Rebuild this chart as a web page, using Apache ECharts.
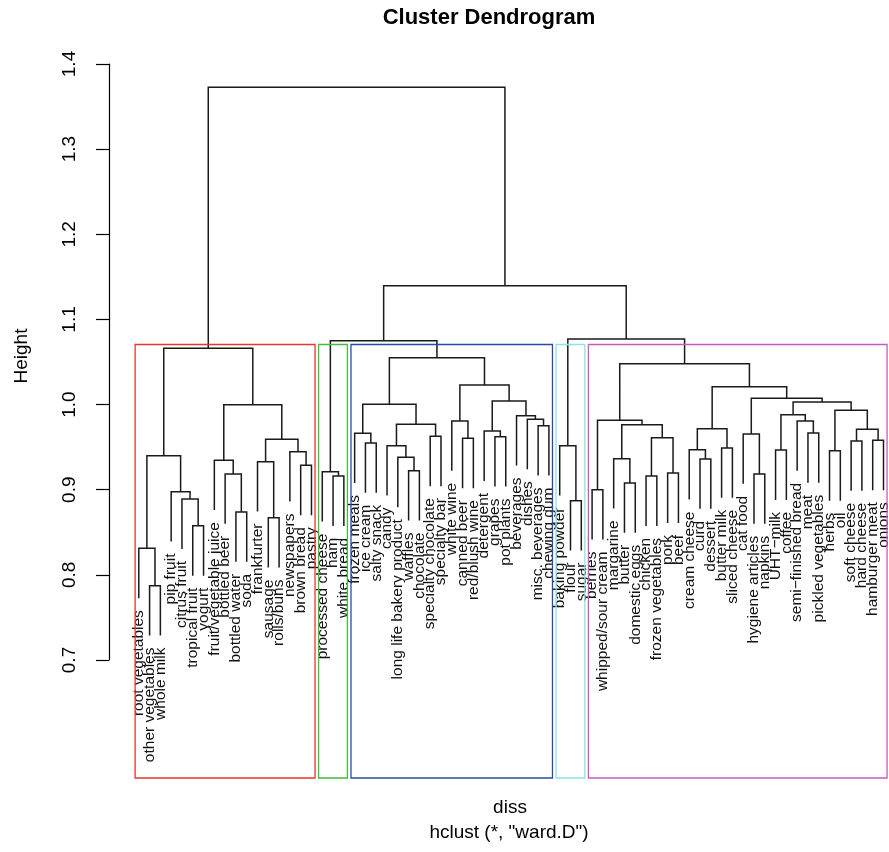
<!DOCTYPE html>
<html>
<head>
<meta charset="utf-8">
<script src="https://cdn.jsdelivr.net/npm/echarts@6/dist/echarts.min.js"></script>
<style>
  html, body { margin: 0; padding: 0; background: #fff; }
  #dendro { width: 889px; height: 852px; }
</style>
</head>
<body>
<div id="dendro"></div>
<script>
// leaves, in plotting order (left -> right)
const leafLabels = [
  'root vegetables', 'other vegetables', 'whole milk', 'pip fruit', 'citrus fruit', 'tropical fruit',
  'yogurt', 'fruit/vegetable juice', 'bottled beer', 'bottled water', 'soda', 'frankfurter', 'sausage',
  'rolls/buns', 'newspapers', 'brown bread', 'pastry',
  'processed cheese', 'ham', 'white bread',
  'frozen meals', 'ice cream', 'salty snack', 'candy', 'long life bakery product', 'waffles', 'chocolate',
  'specialty chocolate', 'specialty bar', 'white wine', 'canned beer', 'red/blush wine', 'detergent',
  'grapes', 'pot plants', 'beverages', 'dishes', 'misc. beverages', 'chewing gum',
  'baking powder', 'flour', 'sugar',
  'berries', 'whipped/sour cream', 'margarine', 'butter', 'domestic eggs', 'chicken', 'frozen vegetables',
  'pork', 'beef', 'cream cheese', 'curd', 'dessert', 'butter milk', 'sliced cheese', 'cat food',
  'hygiene articles', 'napkins', 'UHT\u2212milk', 'coffee', 'semi\u2212finished bread', 'meat',
  'pickled vegetables', 'herbs', 'oil', 'soft cheese', 'hard cheese', 'hamburger meat', 'onions'
]

// merge table like hclust: negative = leaf number, positive = earlier merge row (1-based)
const merges = [
  // red
  [-2, -3], [-1, 1], [-6, -7], [-5, 3], [-4, 4], [2, 5], [-10, -11], [-9, 7], [-8, 8],
  [-13, -14], [-12, 10], [-16, -17], [-15, 12], [11, 13], [9, 14], [6, 15],
  // green
  [-19, -20], [-18, 17],
  // blue
  [-22, -23], [-21, 19], [-26, -27], [-25, 21], [-24, 22], [-28, -29], [23, 24], [20, 25],
  [-31, -32], [-30, 27], [-34, -35], [-33, 29], [-38, -39], [-37, 31], [-36, 32], [30, 33],
  [28, 34], [26, 35], [18, 36],
  // cyan
  [-41, -42], [-40, 38],
  // magenta
  [-43, -44], [-46, -47], [-45, 41], [-48, -49], [-50, -51], [43, 44], [42, 45], [40, 46],
  [-53, -54], [-52, 48], [-55, -56], [49, 50], [-58, -59], [-57, 52], [-60, -61], [-63, -64],
  [-62, 55], [54, 56], [-65, -66], [-67, -68], [-69, -70], [59, 60], [58, 61], [57, 62],
  [53, 63], [51, 64], [47, 65], [39, 66],
  // top
  [37, 67], [16, 68]
]

const heights = [
  0.7877, 0.8316, 0.858, 0.8894, 0.898, 0.9403, 0.8742, 0.9188, 0.9349,
  0.8675, 0.9332, 0.929, 0.945, 0.9595, 1.0, 1.0663,
  0.9164, 0.9215,
  0.9552, 0.9666, 0.9227, 0.9384, 0.952, 0.963, 0.9771, 1.0006,
  0.9607, 0.981, 0.9626, 0.9692, 0.9755, 0.983, 0.9873, 1.0045,
  1.0232, 1.0553, 1.0753,
  0.8875, 0.952,
  0.9004, 0.9082, 0.9368, 0.9164, 0.9199, 0.9614, 0.9767, 0.9818,
  0.9364, 0.9473, 0.9493, 0.972, 0.9188, 0.9657, 0.9469, 0.9669,
  0.981, 0.9884, 0.946, 0.9575, 0.9583, 0.9712, 0.9935, 1.0033,
  1.0076, 1.0213, 1.0482, 1.0772,
  1.1398, 1.3726
]

// rect.hclust(k = 5)
const clusterFirst = [1, 18, 21, 40, 43]
const clusterLast = [17, 20, 39, 42, 70]
const clusterColors = ['#e8342c', '#3fbf3f', '#2a48ad', '#8ee2e2', '#c35bc3']

const yTicks = [0.7, 0.8, 0.9, 1.0, 1.1, 1.2, 1.3, 1.4]

const mainTitle = 'Cluster Dendrogram'
const yName = 'Height'
const xName = 'diss'
const subTitle = 'hclust (*, "ward.D")'

// ---- layout of the tree in data units ----
const hang = 0.1 * (Math.max(...heights) - Math.min(...heights))
const nodeX = []
const posOf = r => (r < 0 ? -r : nodeX[r - 1])
merges.forEach(([a, b], i) => { nodeX[i] = (posOf(a) + posOf(b)) / 2 })
const topOf = (r, h) => (r < 0 ? h - hang : heights[r - 1])

const leafEnd = []
merges.forEach(([a, b], i) => {
  if (a < 0) leafEnd[-a - 1] = heights[i] - hang
  if (b < 0) leafEnd[-b - 1] = heights[i] - hang
})

const sorted = heights.slice().sort((p, q) => q - p)
const k = clusterFirst.length
const cutH = (sorted[k - 2] + sorted[k - 1]) / 2
const yLow = 0.562

const FONT = '"Liberation Sans", Arial, sans-serif'
const chart = echarts.init(document.getElementById('dendro'))

const option = {
  animation: false,
  backgroundColor: '#fff',
  grid: [
    { left: 109, right: 0, top: 64, bottom: 74 },
    { left: 109, top: 64, width: 10, height: 596 }
  ],
  xAxis: [
    { type: 'value', min: -1.76, max: 70.51, show: false, gridIndex: 0 },
    { type: 'value', show: false, gridIndex: 1 }
  ],
  yAxis: [
    { type: 'value', min: yLow, max: 1.4, show: false, gridIndex: 0 },
    {
      type: 'value',
      gridIndex: 1,
      min: yTicks[0],
      max: yTicks[yTicks.length - 1],
      interval: 0.1,
      axisLine: { show: true, onZero: false, lineStyle: { color: '#000', width: 1.2 } },
      axisTick: { show: true, length: 13, lineStyle: { color: '#000', width: 1.2 } },
      axisLabel: {
        rotate: 90,
        margin: 30,
        fontSize: 19,
        fontFamily: FONT,
        color: '#000',
        formatter: v => v.toFixed(1)
      },
      splitLine: { show: false }
    }
  ],
  graphic: [
    { type: 'text', x: 489, y: 18, style: { text: mainTitle, font: 'bold 22px ' + FONT, align: 'center', verticalAlign: 'middle', fill: '#000' } },
    { type: 'text', x: 22, y: 356, rotation: Math.PI / 2, style: { text: yName, font: '19px ' + FONT, align: 'center', verticalAlign: 'middle', fill: '#000' } },
    { type: 'text', x: 510, y: 808, style: { text: xName, font: '19px ' + FONT, align: 'center', verticalAlign: 'middle', fill: '#000' } },
    { type: 'text', x: 509, y: 833, style: { text: subTitle, font: '19px ' + FONT, align: 'center', verticalAlign: 'middle', fill: '#000' } }
  ],
  series: [
    {
      // branches
      type: 'custom',
      xAxisIndex: 0,
      yAxisIndex: 0,
      clip: false,
      data: merges.map((m, i) => [i]),
      renderItem(params, api) {
        const i = api.value(0)
        const [a, b] = merges[i]
        const h = heights[i]
        const pts = [
          api.coord([posOf(a), topOf(a, h)]),
          api.coord([posOf(a), h]),
          api.coord([posOf(b), h]),
          api.coord([posOf(b), topOf(b, h)])
        ]
        return {
          type: 'polyline',
          shape: { points: pts },
          style: { stroke: '#1a1a1a', lineWidth: 1.5, fill: null }
        }
      }
    },
    {
      // leaf labels
      type: 'custom',
      xAxisIndex: 0,
      yAxisIndex: 0,
      clip: false,
      data: leafLabels.map((t, i) => [i + 1, leafEnd[i]]),
      renderItem(params, api) {
        const p = api.coord([api.value(0), api.value(1)])
        return {
          type: 'text',
          x: p[0],
          y: p[1] + 12,
          rotation: Math.PI / 2,
          style: {
            text: leafLabels[params.dataIndex],
            font: '15.5px ' + FONT,
            align: 'right',
            verticalAlign: 'middle',
            fill: '#111'
          }
        }
      }
    },
    {
      // cluster boxes
      type: 'custom',
      xAxisIndex: 0,
      yAxisIndex: 0,
      clip: false,
      z: 5,
      data: clusterFirst.map((f, i) => [f, clusterLast[i]]),
      renderItem(params, api) {
        const p1 = api.coord([api.value(0) - 0.34, cutH])
        const p2 = api.coord([api.value(1) + 0.33, yLow])
        return {
          type: 'rect',
          shape: { x: p1[0], y: p1[1], width: p2[0] - p1[0], height: p2[1] - p1[1] },
          style: { stroke: clusterColors[params.dataIndex], lineWidth: 1.3, fill: null }
        }
      }
    }
  ]
}

chart.setOption(option)
window.addEventListener('resize', () => chart.resize(), false)
</script>
</body>
</html>
